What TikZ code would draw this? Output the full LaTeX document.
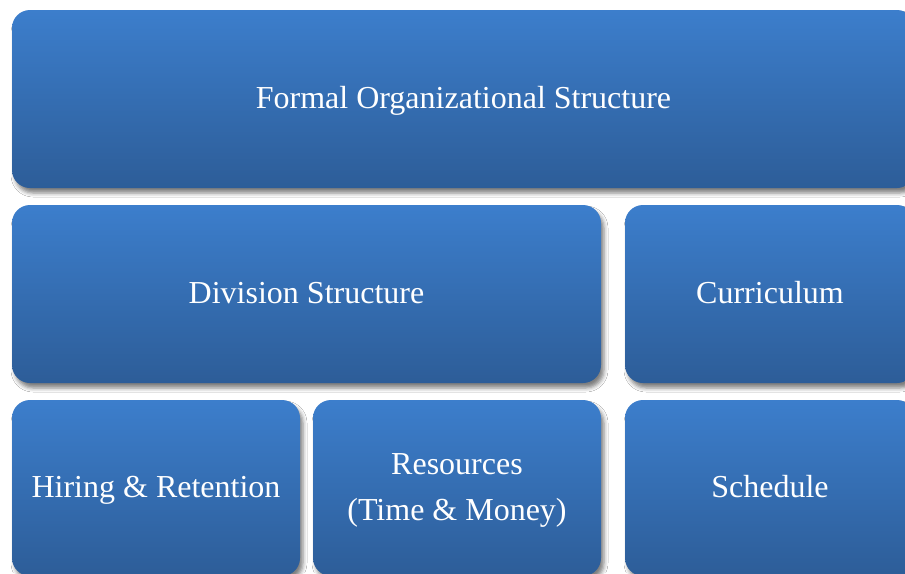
\documentclass[tikz,border=0pt]{standalone}
\usepackage{fontspec}
\setmainfont{Liberation Serif}
\usetikzlibrary{shadows.blur}
\definecolor{boxtop}{RGB}{60,126,204}
\definecolor{boxbot}{RGB}{45,93,152}
\begin{document}
\begin{tikzpicture}[x=1pt,y=-1pt,
  tile/.style={anchor=north west, rounded corners=18pt, top color=boxtop, bottom color=boxbot,
    inner sep=0pt, outer sep=0pt,
    blur shadow={shadow xshift=3pt, shadow yshift=-5pt, shadow blur radius=4pt, shadow opacity=50}},
  label/.style={text=white, align=center, inner sep=0pt,
    font=\fontsize{32}{46}\selectfont},
  ]
\useasboundingbox[fill=white] (0,0) rectangle (905,573);
\begin{scope}
\clip (0,0) rectangle (905,573);
\node[tile, minimum width=903pt, minimum height=178pt] (top) at (12,10) {};
\node[tile, minimum width=589pt, minimum height=178pt] (div) at (12,205) {};
\node[tile, minimum width=290pt, minimum height=178pt] (cur) at (625,205) {};
\node[tile, minimum width=288pt, minimum height=176pt] (hire) at (12,400) {};
\node[tile, minimum width=288pt, minimum height=176pt] (res) at (313,400) {};
\node[tile, minimum width=290pt, minimum height=176pt] (sched) at (625,400) {};
\node[label] (topT) at (top.center) {\strut Formal Organizational Structure};
\node[label] (divT) at (div.center) {\strut Division Structure};
\node[label] (curT) at (cur.center) {\strut Curriculum};
\node[label] (hireT) at (hire.center) {\strut Hiring \& Retention};
\node[label] (resT) at (res.center) {\strut Resources\\\strut(Time \& Money)};
\node[label] (schedT) at (sched.center) {\strut Schedule};
\end{scope}
\end{tikzpicture}
\end{document}
